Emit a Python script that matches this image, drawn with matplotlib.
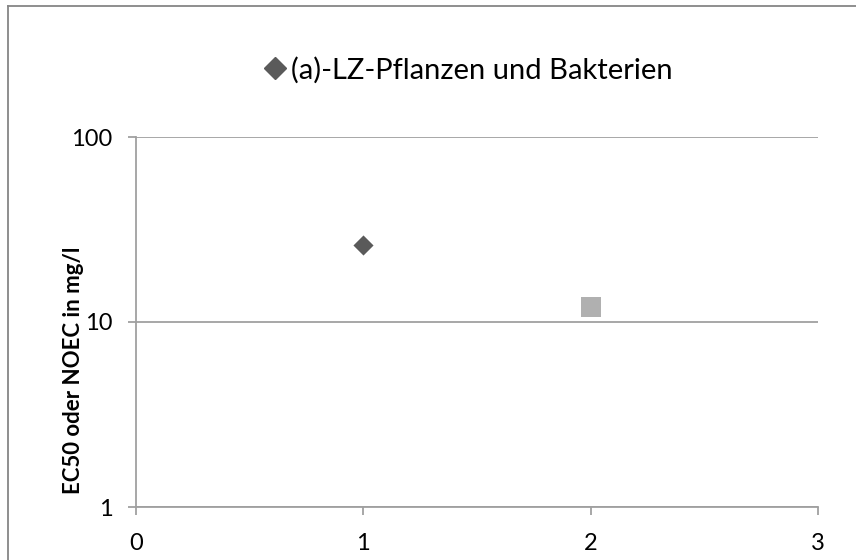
import matplotlib
matplotlib.use('Agg')
import matplotlib.pyplot as plt
from matplotlib.lines import Line2D

# data
series_a_x = [1]
series_a_y = [26]
series_b_x = [2]
series_b_y = [12]
legend_label = '(a)-LZ-Pflanzen und Bakterien'
y_label = 'EC50 oder NOEC in mg/l'
x_ticks = [0, 1, 2, 3]
y_ticks = [1, 10, 100]

grid_col = '#a0a0a0'
dark_col = '#5a5a5a'
light_col = '#b0b0b0'

fig = plt.figure(figsize=(8.56, 5.6), dpi=100)
ax = fig.add_axes([136 / 856, 1 - 507 / 560, (818 - 136) / 856, (507 - 137) / 560])

ax.scatter(series_a_x, series_a_y, marker='D', s=105, color=dark_col, zorder=3,
           linewidths=0)
ax.scatter(series_b_x, series_b_y, marker='s', s=205, color=light_col, zorder=3,
           linewidths=0)

ax.set_yscale('log')
ax.set_xlim(0, 3)
ax.set_ylim(1, 100)
ax.set_xticks(x_ticks)
ax.set_xticklabels([str(v) for v in x_ticks], family='Lato', fontsize=17)
ax.set_yticks(y_ticks)
ax.set_yticklabels([str(v) for v in y_ticks], family='Lato', fontsize=17)
ax.minorticks_off()
ax.yaxis.grid(True, color=grid_col, linewidth=1.3)
ax.set_axisbelow(True)

for side in ['top', 'right']:
    ax.spines[side].set_visible(False)
for side in ['left', 'bottom']:
    ax.spines[side].set_color(grid_col)
    ax.spines[side].set_linewidth(1.3)
ax.tick_params(axis='both', direction='out', length=6, width=1.3, color=grid_col,
               labelcolor='black')
ax.tick_params(axis='x', pad=13)
ax.tick_params(axis='y', pad=11)

# y label sits lower than the axis centre in the reference
fig.text(74 / 856, 1 - 370 / 560, y_label, rotation=90, ha='center', va='center',
         fontsize=16, fontweight='bold', family='Lato')

handle = Line2D([], [], marker='D', linestyle='none', color=dark_col, markersize=10.7)
fig.legend([handle], [legend_label], loc='center', bbox_to_anchor=(468 / 856, 1 - 70 / 560),
           frameon=False, prop={'family': 'Lato', 'size': 21}, handletextpad=0.15,
           handlelength=0.8)

# chart frame (top and left edges visible in the reference)
fig.add_artist(Line2D([8 / 856, 1.0], [1 - 6 / 560, 1 - 6 / 560], transform=fig.transFigure,
                      color='#868686', linewidth=1.3))
fig.add_artist(Line2D([8 / 856, 8 / 856], [0, 1 - 6 / 560], transform=fig.transFigure,
                      color='#868686', linewidth=1.3))

fig.savefig('out.png', dpi=100)
